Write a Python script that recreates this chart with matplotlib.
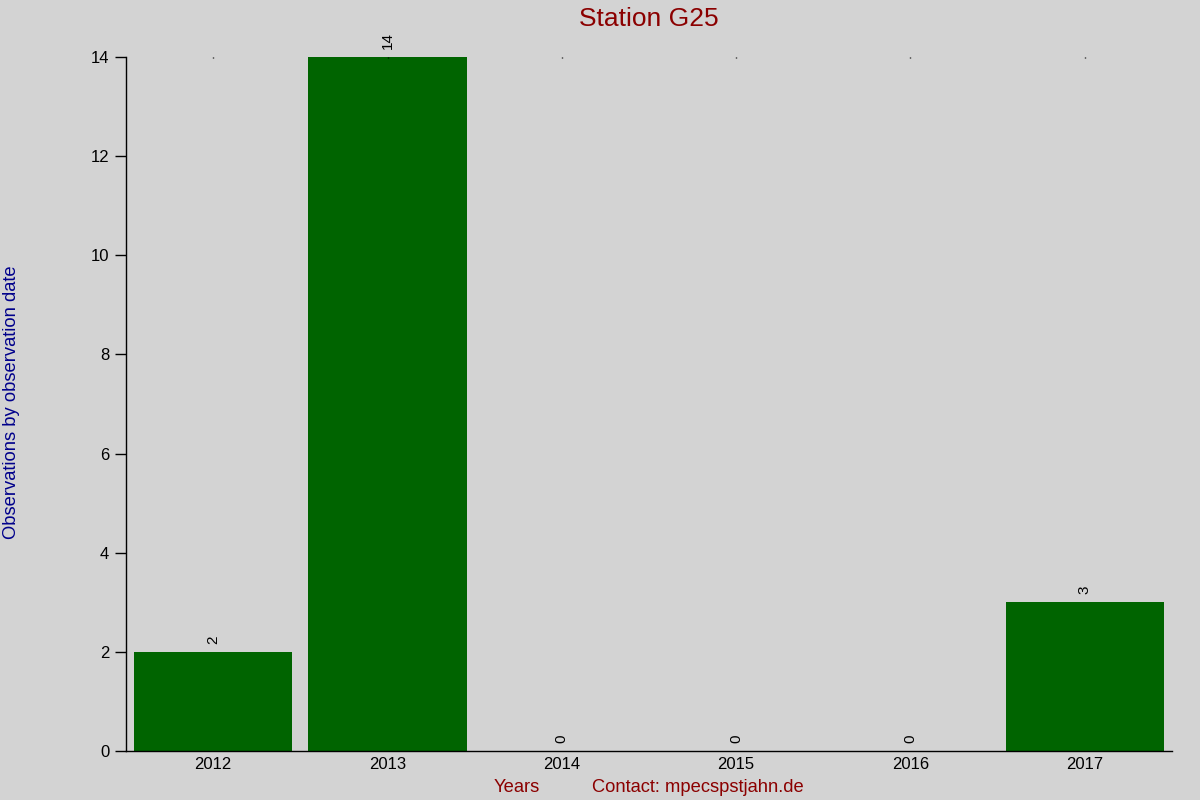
import matplotlib
matplotlib.use("Agg")
import matplotlib.pyplot as plt

plt.rcParams['font.family'] = ['Liberation Sans', 'DejaVu Sans']

years = ['2012', '2013', '2014', '2015', '2016', '2017']
counts = [2, 14, 0, 0, 0, 3]
title = 'Station G25'
ylabel = 'Observations by observation date'
xlabel = 'Years'
contact = 'Contact: mpecspstjahn.de'
yticks = [0, 2, 4, 6, 8, 10, 12, 14]

bg = '#D3D3D3'
fig = plt.figure(figsize=(12, 8), dpi=100, facecolor=bg)
ax = fig.add_axes([126/1200, 1-751/800, (1172-126)/1200, (751-57)/800])
ax.set_facecolor(bg)

x = list(range(len(years)))
ax.bar(x, counts, width=0.908, color='#006400')
for xi, v in zip(x, counts):
    ax.annotate(str(v), (xi, v), xytext=(0, 6), textcoords='offset points',
                rotation=90, ha='center', va='bottom', fontsize=11, color='black',
                annotation_clip=False)

ax.set_xlim(-0.5, len(years) - 0.5)
ax.set_ylim(0, 14)
ax.set_xticks(x)
ax.set_xticklabels(years, fontsize=12)
ax.set_yticks(yticks)
ax.set_yticklabels([str(t) for t in yticks], fontsize=12)
ax.tick_params(axis='x', bottom=False, top=True, length=1, width=1, direction='in', pad=4)
ax.tick_params(axis='y', length=8, width=1, direction='out', pad=4)
for s in ['top', 'right']:
    ax.spines[s].set_visible(False)
ax.spines['left'].set_linewidth(1)
ax.spines['bottom'].set_linewidth(1)

fig.text(649/1200, 1-19/800, title, ha='center', va='center', fontsize=19, color='#8B0000')
fig.text(12/1200, 1-402/800, ylabel, rotation=90, ha='center', va='center', fontsize=13.2, color='#00008B')
fig.text(517/1200, 1-787/800, xlabel, ha='center', va='center', fontsize=13.2, color='#8B0000')
fig.text(698/1200, 1-787/800, contact, ha='center', va='center', fontsize=13.2, color='#8B0000')

fig.savefig('out.png', dpi=100, facecolor=bg)
